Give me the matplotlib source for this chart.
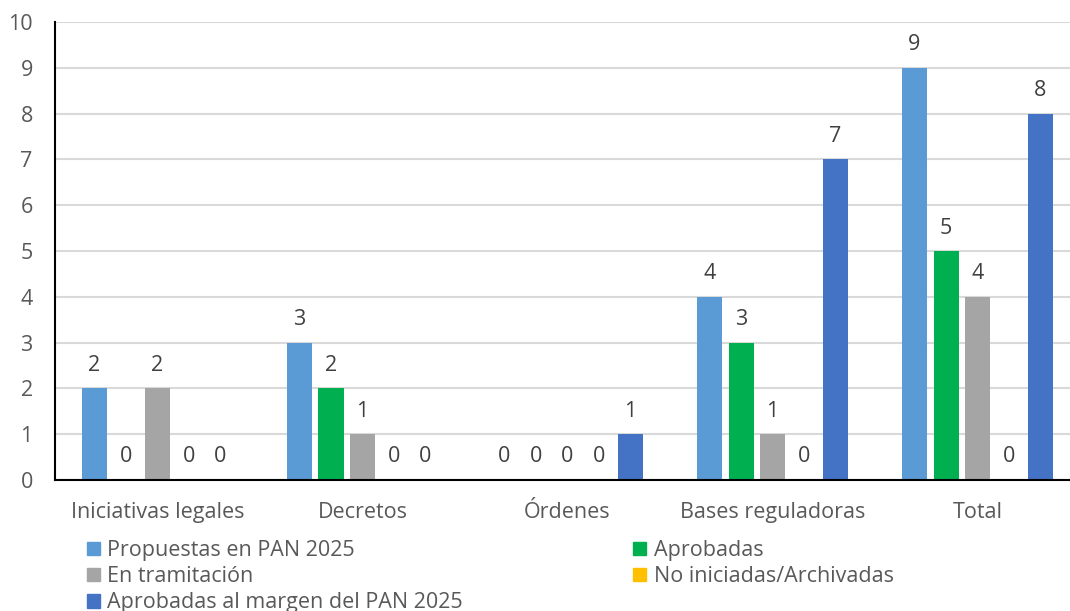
import numpy as np
import matplotlib.pyplot as plt
from matplotlib.patches import Patch

# ----------------------------
# DATA
# ----------------------------
categorias = ["Iniciativas legales", "Decretos", "Órdenes", "Bases reguladoras", "Total"]
series = ["Propuestas en PAN 2025", "Aprobadas", "En tramitación",
          "No iniciadas/Archivadas", "Aprobadas al margen del PAN 2025"]
propuestas = [2, 3, 0, 4, 9]
aprobadas = [0, 2, 0, 3, 5]
tramitacion = [2, 1, 0, 1, 4]
no_iniciadas = [0, 0, 0, 0, 0]
al_margen = [0, 0, 1, 7, 8]
valores = [propuestas, aprobadas, tramitacion, no_iniciadas, al_margen]
colores = ["#5B9BD5", "#00B050", "#A5A5A5", "#FFC000", "#4472C4"]

plt.rcParams['font.family'] = ['Open Sans', 'DejaVu Sans']
fs = 15.5

fig = plt.figure(figsize=(10.7, 6.11), dpi=100)
ax = fig.add_axes([55 / 1070, 131 / 611, 1 - 55 / 1070, 458 / 611])

x = np.arange(len(categorias))
paso = 0.1537
ancho = 0.122

for i, (vals, col) in enumerate(zip(valores, colores)):
    pos = x + (i - 2) * paso
    ax.bar(pos, vals, width=ancho, color=col, zorder=3)
    for p, v in zip(pos, vals):
        ax.annotate(str(v), (p, v), xytext=(0, 9), textcoords="offset points",
                    ha="center", va="bottom", fontsize=fs, color="#404040")

ax.set_ylim(0, 10)
ax.set_xlim(-0.5, 4.451)
ax.set_yticks(range(0, 11))
ax.set_xticks(x)
ax.set_xticklabels(categorias)
ax.tick_params(axis="both", length=0, labelsize=fs, colors="#595959")
ax.tick_params(axis="x", pad=16)
ax.tick_params(axis="y", pad=16)
ax.grid(axis="y", color="#D9D9D9", linewidth=1.5, zorder=0)
for s in ["top", "right"]:
    ax.spines[s].set_visible(False)
for s in ["left", "bottom"]:
    ax.spines[s].set_color("black")
    ax.spines[s].set_linewidth(1.5)
    ax.spines[s].set_zorder(4)

handles = [Patch(color=c) for c in colores]
orden = [0, 2, 4, 1, 3]
fig.legend([handles[k] for k in orden], [series[k] for k in orden],
           ncol=2, loc="upper left", bbox_to_anchor=(87 / 1070, 1 - 540 / 611),
           frameon=False, fontsize=fs, labelcolor="#595959",
           handlelength=0.6, handleheight=0.6, handletextpad=0.35,
           labelspacing=0.24, columnspacing=7.9, borderaxespad=0, borderpad=0)

fig.savefig("out.png", dpi=100)
